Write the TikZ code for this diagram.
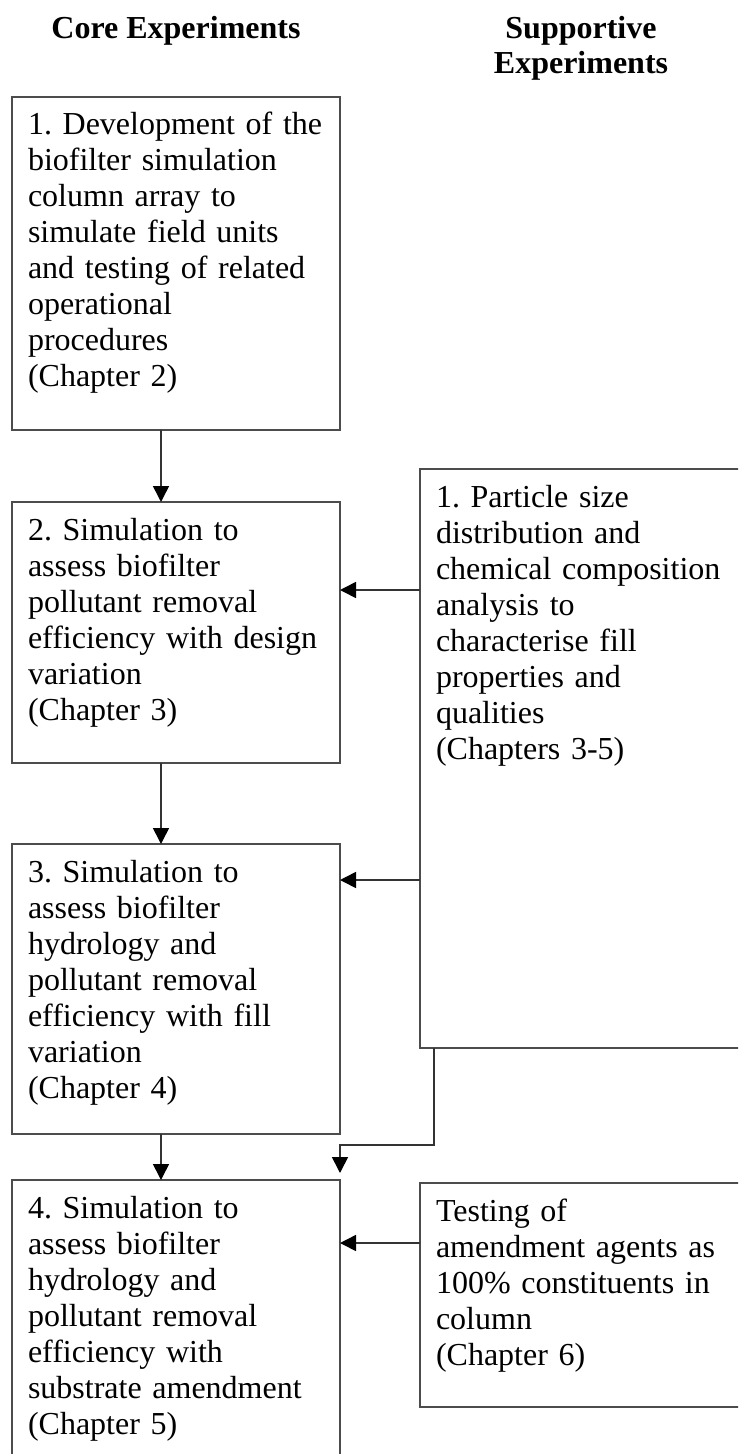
\documentclass[tikz,border=0pt]{standalone}
\usepackage{fontspec}
\setmainfont{Liberation Serif}
\usetikzlibrary{arrows.meta}
\begin{document}
\begin{tikzpicture}[x=0.5pt,y=-0.5pt,
  box/.style={draw=black!70, line width=0.9pt, outer sep=0pt, anchor=north west,
    text width=148pt, inner xsep=8pt, inner ysep=0pt, text height=19pt,
    align=left, font=\fontsize{16}{18}\selectfont\frenchspacing},
  head/.style={anchor=north, inner sep=0pt, align=center, font=\fontsize{16}{17.5}\selectfont\bfseries},
  arr/.style={draw=black!80, line width=0.8pt, -{Triangle[length=8pt,width=8pt,black]}}]
\clip (0,0) rectangle (738,1454);
\node[head] (core) at (176,16) {Core Experiments};
\node[head] (supp) at (581,16) {Supportive\\Experiments};
\node[box, text depth=147.5pt] (b1) at (12,97) {1. Development of the\\biofilter simulation\\column array to\\simulate field units\\and testing of related\\operational\\procedures\\(Chapter 2)};
\node[box, text depth=111.5pt] (b2) at (12,502) {2. Simulation to\\assess biofilter\\pollutant removal\\efficiency with design\\variation\\(Chapter 3)};
\node[box, text depth=126pt] (b3) at (12,844) {3. Simulation to\\assess biofilter\\hydrology and\\pollutant removal\\efficiency with fill\\variation\\(Chapter 4)};
\node[box, text depth=126pt] (b4) at (12,1180) {4. Simulation to\\assess biofilter\\hydrology and\\pollutant removal\\efficiency with\\substrate amendment\\(Chapter 5)};
\node[box, text depth=270.5pt] (s1) at (420,469) {1. Particle size\\distribution and\\chemical composition\\analysis to\\characterise fill\\properties and\\qualities\\(Chapters 3-5)};
\node[box, text depth=93pt] (s2) at (420,1183) {Testing of\\amendment agents as\\100\% constituents in\\column\\(Chapter 6)};
\draw[arr] ([xshift=-7.5pt]b1.south) -- ([xshift=-7.5pt]b2.north);
\draw[arr] ([xshift=-7.5pt]b2.south) -- ([xshift=-7.5pt]b3.north);
\draw[arr] ([xshift=-7.5pt]b3.south) -- ([xshift=-7.5pt]b4.north);
\draw[arr] ([yshift=-44pt]b2.north east -| s1.west) -- ([yshift=-44pt]b2.north east);
\draw[arr] ([yshift=-18pt]b3.north east -| s1.west) -- ([yshift=-18pt]b3.north east);
\draw[arr] ([yshift=-31.5pt]b4.north east -| s2.west) -- ([yshift=-31.5pt]b4.north east);
\draw[arr] ([xshift=7pt]s1.south west) |- ([yshift=17.5pt]b4.north east) -- ([yshift=3.5pt]b4.north east);
\end{tikzpicture}
\end{document}
